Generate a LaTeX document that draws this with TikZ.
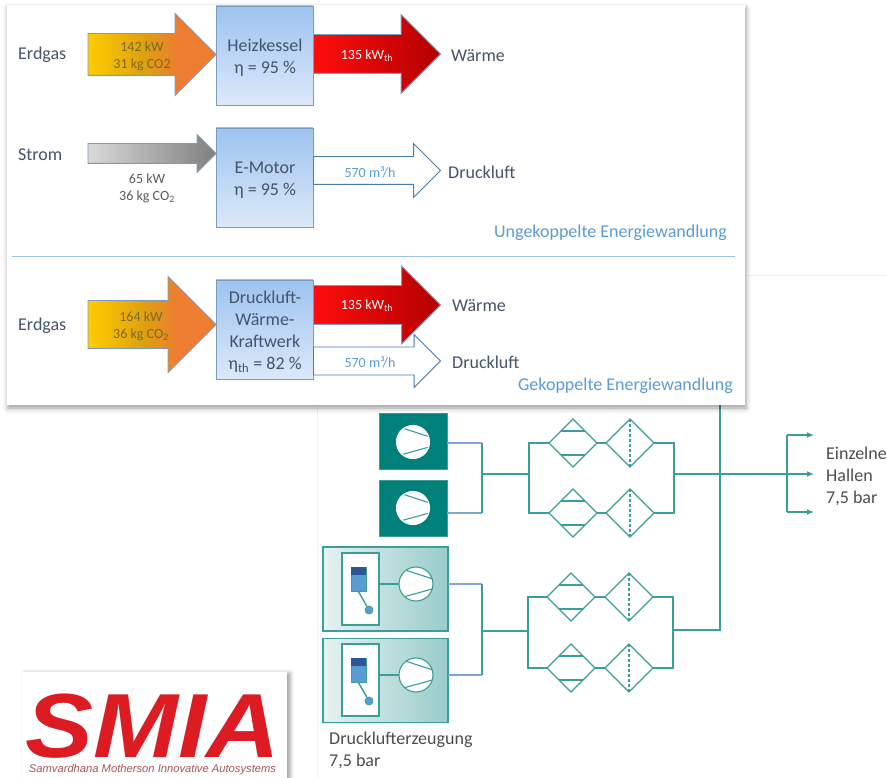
\documentclass[tikz,border=0pt]{standalone}
\usepackage{fontspec}
\setmainfont{Carlito}
\newfontfamily\logofont{Liberation Sans}
\usetikzlibrary{arrows.meta,shapes.arrows,shapes.geometric,shadows.blur}

\definecolor{schrift}{HTML}{44546A}
\definecolor{hellblau}{HTML}{5B9BD5}
\definecolor{rand}{HTML}{7C9CBF}
\definecolor{teal1}{HTML}{00807A}
\definecolor{teal2}{HTML}{3A9E99}
\definecolor{leitung}{HTML}{7FA6D8}
\definecolor{logorot}{HTML}{DC1C22}
\definecolor{gasgelb}{HTML}{FFCC00}
\definecolor{gasmitte}{HTML}{DDA010}
\definecolor{gasorange}{HTML}{ED7D31}
\definecolor{gastext}{HTML}{7F6A20}
\definecolor{boxoben}{HTML}{9DC3F0}
\definecolor{boxunten}{HTML}{DCE9F9}
\definecolor{blockdunkel}{HTML}{2F5597}
\pgfdeclarehorizontalshading{erdgasfade}{100bp}{color(0bp)=(gasgelb); color(25bp)=(gasgelb);
  color(47bp)=(gasmitte); color(60bp)=(gasorange); color(100bp)=(gasorange)}

\tikzset{
  txt/.style={inner sep=0pt,text=schrift,font=\fontsize{18}{22}\selectfont},
  klein/.style={inner sep=0pt,align=center,font=\fontsize{14}{17}\selectfont},
  pfeil/.style={single arrow,single arrow tip angle=90,single arrow head indent=0pt,
    anchor=tail,inner xsep=0pt,outer sep=0pt,draw=rand,line width=0.9pt},
  gaspfeil/.style={pfeil,shading=erdgasfade},
  rotpfeil/.style={pfeil,left color=red!95!white,right color=red!70!black},
  graupfeil/.style={pfeil,left color=black!15,right color=black!50},
  luftpfeil/.style={pfeil,fill=white,draw=hellblau!80!black},
  kessel/.style={rectangle,draw=rand,line width=0.9pt,top color=boxoben,bottom color=boxunten,
    minimum width=97pt,minimum height=99pt,inner sep=0pt,outer sep=0pt},
  kesseltxt/.style={txt,align=center},
  flow/.style={draw=teal2,line width=1.1pt},
  flowblau/.style={draw=leitung,line width=1.3pt},
  kompvoll/.style={rectangle,fill=teal1,draw=teal2,line width=0.5pt,minimum width=68pt,minimum height=56pt,inner sep=0pt,outer sep=0pt},
  komphell/.style={rectangle,left color=teal1!10,right color=teal1!40,draw=teal2,line width=1.1pt,minimum width=125pt,minimum height=84pt,inner sep=0pt,outer sep=0pt},
  kompkreis/.style={circle,fill=white,draw=teal2,line width=1.1pt,minimum size=33pt,inner sep=0pt,outer sep=0pt,
    path picture={\draw[flow,shift={(path picture bounding box.center)}] (-20,-17) -- (20,-4) (-20,15) -- (20,4);}},
  kuehler/.style={diamond,aspect=1,fill=white,draw=teal2,line width=1.1pt,minimum size=48pt,inner sep=0pt,outer sep=0pt,
    path picture={\draw[flow,shift={(path picture bounding box.center)}] (-20,-12) -- (20,-12) (-20,12) -- (20,12);}},
  filter/.style={diamond,aspect=1,fill=white,draw=teal2,line width=1.1pt,minimum size=48pt,inner sep=0pt,outer sep=0pt,
    path picture={\draw[flow,densely dashed,shift={(path picture bounding box.center)}] (0,-24) -- (0,24);}},
  schalter/.style={rectangle,fill=white,draw=teal2,line width=1.1pt,minimum width=37pt,minimum height=72pt,inner sep=0pt,outer sep=0pt},
  tipp/.style={-{Latex[length=7pt,width=6pt]},flow}
}

\begin{document}
\begin{tikzpicture}[x=1pt,y=-1pt]
  \useasboundingbox (0,0) rectangle (887,778);
  \draw [black!5] (317,275) -- (317,778) (745,275) -- (887,275);

  % Kompressoren
  \node [kompvoll] (kompa) at (413,441) {};
  \node [kompvoll] (kompb) at (413,508.5) {};
  \node [kompkreis,draw=white] (kreisa) at (413,442) {};
  \node [kompkreis,draw=white] (kreisb) at (413,508) {};
  \node [komphell] (kompc) at (385.5,589) {};
  \node [komphell] (kompd) at (385.5,680.5) {};
  \node [schalter] (schalc) at (360.5,589) {};
  \node [schalter] (schald) at (360.5,680) {};
  \node [kompkreis,minimum size=34pt] (kreisc) at (416,584) {};
  \node [kompkreis,minimum size=34pt] (kreisd) at (416,675) {};
  \draw [flow] (schalc.east |- kreisc) -- (kreisc);
  \draw [flow] (schald.east |- kreisd) -- (kreisd);
  \foreach \n/\yo in {c/567,d/658} {
    \node [rectangle,fill=hellblau,draw=teal2,line width=0.6pt,minimum width=15pt,minimum height=24pt,inner sep=0pt,anchor=north] (block\n) at (358.5,\yo) {};
    \fill [blockdunkel] (block\n.north west) rectangle ([yshift=-8pt]block\n.north east);
    \node [circle,fill=hellblau,draw=teal2,line width=0.8pt,minimum size=8pt,inner sep=0pt] (knopf\n) at (369,\yo+43) {};
    \draw [flow,line width=1.4pt] (block\n.south) -- (knopf\n);
  }

  % Kuehler und Filter
  \foreach \n/\xa/\xb/\yo in {a/573/630/443,b/573/630/513,c/571/629/597,d/571/629/668} {
    \node [kuehler] (kuehl\n) at (\xa,\yo) {};
    \node [filter] (filt\n) at (\xb,\yo) {};
    \draw [flow] (kuehl\n) -- (filt\n);
  }

  % Leitungen
  \coordinate (sama) at (482,474);
  \coordinate (samc) at (482,631);
  \coordinate (vora) at (529,474);
  \coordinate (vorc) at (528,631);
  \coordinate (naca) at (674,474);
  \coordinate (nacc) at (673,630);
  \coordinate (netz) at (720,474);
  \coordinate (netzoben) at (720,405);
  \coordinate (verteil) at (787,474);
  \coordinate (abo) at (814,435);
  \coordinate (abm) at (814,474);
  \coordinate (abu) at (814,512);
  \draw [flowblau] (kompa.east |- kuehla) -- (sama |- kuehla);
  \draw [flowblau] (kompb.east |- kuehlb) -- (sama |- kuehlb);
  \draw [flowblau] (kompc.east |- kreisc) -- (samc |- kreisc);
  \draw [flowblau] (kompd.east |- kreisd) -- (samc |- kreisd);
  \draw [flow] (sama |- kuehla) -- (sama |- kuehlb);
  \draw [flow] (samc |- kreisc) -- (samc |- kreisd);
  \draw [flow] (sama) -- (vora);
  \draw [flow] (samc) -- (vorc);
  \draw [flow] (kuehla) -| (vora |- kuehlb) -- (kuehlb);
  \draw [flow] (kuehlc) -| (vorc |- kuehld) -- (kuehld);
  \draw [flow] (filta) -| (naca |- filtb) -- (filtb);
  \draw [flow] (filtc) -| (nacc |- filtd) -- (filtd);
  \draw [flow] (nacc) -- (netz |- nacc) -- (netzoben);
  \draw [tipp] (naca) -- (abm);
  \draw [tipp] (verteil |- abo) -- (abo);
  \draw [tipp] (verteil |- abu) -- (abu);
  \draw [flow] (verteil |- abo) -- (verteil |- abu);
  \node [txt,text=black!70,anchor=west,align=left] (hallen) at (826,476) {Einzelne\\Hallen\\7,5 bar};
  \node [txt,text=black!70,anchor=west,align=left] (erzeugung) at (329,750) {Drucklufterzeugung\\7,5 bar};

  % Logo
  \node [rectangle,fill=white,minimum width=265pt,minimum height=110pt,inner sep=0pt,
    blur shadow={shadow xshift=3pt,shadow yshift=-1pt,shadow blur radius=4pt}] (logobox) at (154.5,727) {};
  \node [inner sep=0pt,text=logorot,xscale=1.12,text height=65pt,text depth=0pt,font=\logofont\bfseries\itshape\fontsize{91}{91}\selectfont] (logo) at (153,725) {SMIA};
  \node [inner sep=0pt,text=logorot!55!black!70!white,font=\logofont\itshape\fontsize{11.2}{11}\selectfont] (logotext) at (152.5,770) {Samvardhana Motherson Innovative Autosystems};

  % Energiewandlung
  \node [rectangle,fill=white,minimum width=738pt,minimum height=400pt,inner sep=0pt,
    blur shadow={shadow xshift=1pt,shadow yshift=-3pt,shadow blur radius=5pt}] (tafel) at (376,205) {};
  \coordinate (trennl) at (12,256);
  \coordinate (trennr) at (735,256);
  \draw [hellblau!60,line width=0.8pt] (trennl) -- (trennr);

  \node [kessel] (heiz) at (264.5,55.5) {};
  \node [kessel] (motor) at (264.5,177.5) {};
  \node [kessel] (kraft) at (264.5,329.5) {};
  \node [kesseltxt] (heiztxt) at (265,57.5) {Heizkessel\\η = 95 \%};
  \node [kesseltxt] (motortxt) at (265,180) {E-Motor\\η = 95 \%};
  \node [kesseltxt] (krafttxt) at (265,332) {Druckluft-\\Wärme-\\Kraftwerk\\η\textsubscript{th} = 82 \%};

  \node [gaspfeil,minimum height=128pt,inner ysep=20.5pt,single arrow head extend=20pt] (gasa) at (88,54.5) {};
  \node [graupfeil,minimum height=128pt,inner ysep=9.5pt,single arrow head extend=9pt] (strom) at (88,153.5) {};
  \node [gaspfeil,minimum height=128pt,inner ysep=23.5pt,single arrow head extend=24pt] (gasb) at (88,324.5) {};
  \node [luftpfeil,minimum height=127pt,inner ysep=13.5pt,single arrow head extend=13pt] (lufta) at (313.5,170.5) {};
  \node [luftpfeil,minimum height=127pt,inner ysep=13.5pt,single arrow head extend=12.5pt] (luftb) at (313.5,361) {};
  \node [rotpfeil,minimum height=127pt,inner ysep=19pt,single arrow head extend=20pt] (rota) at (313.5,54) {};
  \node [rotpfeil,minimum height=127pt,inner ysep=19pt,single arrow head extend=19.5pt] (rotb) at (313.5,305) {};

  \node [klein,text=gastext] (gasatxt) at (142,56) {142 kW\\31 kg CO2};
  \node [klein,text=black!65] (stromtxt) at (147,188.5) {65 kW\\36 kg CO\textsubscript{2}};
  \node [klein,text=gastext] (gasbtxt) at (141,326) {164 kW\\36 kg CO\textsubscript{2}};
  \node [klein,text=white] (rotatxt) at (367,56) {135 kW\textsubscript{th}};
  \node [klein,text=white] (rotbtxt) at (367,306) {135 kW\textsubscript{th}};
  \node [klein,text=hellblau] (luftatxt) at (370,172) {570 m³/h};
  \node [klein,text=hellblau] (luftbtxt) at (370,362) {570 m³/h};

  \node [txt,anchor=west] (erdgasa) at (18,55) {Erdgas};
  \node [txt,anchor=west] (stroma) at (18,155) {Strom};
  \node [txt,anchor=west] (erdgasb) at (18,326) {Erdgas};
  \node [txt,anchor=west] (waermea) at (451,56) {Wärme};
  \node [txt,anchor=west] (drucka) at (448,172) {Druckluft};
  \node [txt,anchor=west] (waermeb) at (452,306) {Wärme};
  \node [txt,anchor=west] (druckb) at (452,362) {Druckluft};
  \node [txt,text=hellblau,anchor=east] (unge) at (727,233) {Ungekoppelte Energiewandlung};
  \node [txt,text=hellblau,anchor=east] (geko) at (733,386) {Gekoppelte Energiewandlung};
\end{tikzpicture}
\end{document}
